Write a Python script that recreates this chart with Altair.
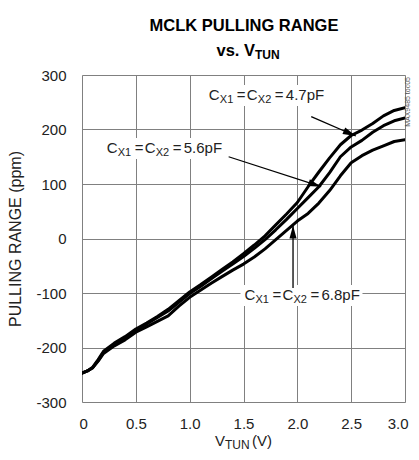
import math
import altair as alt
import pandas as pd

# ---------------- data ----------------
vtun = [0, 0.05, 0.1, 0.15, 0.2, 0.3, 0.4, 0.5, 0.6, 0.7, 0.8, 0.9, 1.0, 1.1, 1.2,
        1.3, 1.4, 1.5, 1.6, 1.7, 1.8, 1.9, 2.0, 2.1, 2.2, 2.3, 2.4, 2.5, 2.6, 2.7,
        2.8, 2.9, 3.0]
ppm_47 = [-247, -243, -236, -222, -207, -192, -180, -166, -155, -143, -130, -114, -98,
          -85, -71, -57, -43, -28, -12, 5, 25, 45, 66, 95, 122, 148, 172, 189, 199,
          211, 225, 235, 240]
ppm_56 = [-247, -243, -237, -224, -209, -194, -182, -168, -157, -145, -133, -117, -101,
          -88, -74, -60, -47, -33, -18, -2, 16, 35, 55, 75, 95, 121, 150, 168, 180,
          195, 207, 216, 221]
ppm_68 = [-247, -243, -237, -225, -211, -197, -186, -172, -162, -152, -142, -124, -108,
          -95, -82, -70, -58, -47, -34, -19, -2, 15, 32, 46, 65, 88, 115, 139, 152,
          162, 170, 178, 181]
series_names = ["4.7pF", "5.6pF", "6.8pF"]

x_ticks = [0, 0.5, 1.0, 1.5, 2.0, 2.5, 3.0]
y_ticks = [-300, -200, -100, 0, 100, 200, 300]

# annotation labels: value text, start (V), baseline (ppm)
label_vals = ["4.7pF", "5.6pF", "6.8pF"]
label_v = [1.178, 0.230, 1.509]
label_p = [254.1, 156.9, -112.8]
# arrows: tail (V, ppm) -> tip (V, ppm)
arrow_v1 = [2.129, 1.362, 1.960]
arrow_p1 = [223.5, 150.0, -90.8]
arrow_v2 = [2.543, 2.221, 1.960]
arrow_p2 = [188.1, 95.0, 24.0]

# ---------------- geometry helpers ----------------
W, H = 323, 327
X0 = 82                         # page x of plot's left edge
XD, YD = [0, 3], [-300, 300]
PXV = W / (XD[1] - XD[0])      # px per volt
PXP = H / (YD[1] - YD[0])      # px per ppm
FONT = "Liberation Sans"
TXT = "#222"

xs = alt.Scale(domain=XD, nice=False, zero=False)
ys = alt.Scale(domain=YD, nice=False, zero=False)

rows = []
for name, vals in zip(series_names, [ppm_47, ppm_56, ppm_68]):
    for v, p in zip(vtun, vals):
        rows.append({"V": v, "ppm": p, "series": name})
df = pd.DataFrame(rows)

# text pieces of "CX1 = CX2 = value" (px offset, px drop, text, size)
pieces_tpl = [(0, 0, "C", 15), (11, 3, "X1", 11), (28, 0, "=", 15), (38, 0, "C", 15),
              (49, 3, "X2", 11), (66, 0, "=", 15), (77, 0, None, 15)]
trows, rrows = [], []
for val, lv, lp in zip(label_vals, label_v, label_p):
    for dxp, dyp, t, s in pieces_tpl:
        trows.append({"V": lv + dxp / PXV, "ppm": lp - dyp / PXP,
                      "t": t if t else val, "s": s})
    rrows.append({"V": lv - 4 / PXV, "V2": lv + 118 / PXV,
                  "ppm": lp + 15 / PXP, "ppm2": lp - 6 / PXP})
tdf = pd.DataFrame(trows)
rdf = pd.DataFrame(rrows)

arows = []
for a, b, c, d in zip(arrow_v1, arrow_p1, arrow_v2, arrow_p2):
    sdx = (c - a) * PXV
    sdy = -(d - b) * PXP
    ang = math.degrees(math.atan2(sdx, -sdy)) % 360
    arows.append({"V": a, "ppm": b, "V2": c, "ppm2": d, "ang": ang})
adf = pd.DataFrame(arows)

# ---------------- layers ----------------
base = alt.Chart(df).mark_line(strokeWidth=3, color="black", strokeJoin="round",
                               strokeCap="round", clip=True).encode(
    x=alt.X("V:Q", scale=xs, axis=alt.Axis(
        values=x_ticks, title=None, grid=True, ticks=False, domain=False,
        labelExpr="datum.value == 0 ? '0' : format(datum.value, '.1f')",
        labelPadding=14, labelFontSize=15, labelColor=TXT, labelFont=FONT,
        gridColor="#808080", gridWidth=1, labelFlush=True, labelFlushOffset=3)),
    y=alt.Y("ppm:Q", scale=ys, axis=alt.Axis(
        values=y_ticks, title="PULLING RANGE (ppm)", grid=True, ticks=False,
        domain=False, labelExpr="'' + datum.value", labelPadding=16,
        labelFontSize=15, labelColor=TXT, labelFont=FONT,
        titleFont=FONT, titleFontSize=16, titleFontWeight="normal",
        titleColor=TXT, titlePadding=12,
        gridColor="#808080", gridWidth=1)),
    detail="series:N",
)

rects = alt.Chart(rdf).mark_rect(color="white").encode(
    x=alt.X("V:Q", scale=xs), x2="V2:Q",
    y=alt.Y("ppm:Q", scale=ys), y2="ppm2:Q")

lines = alt.Chart(adf).mark_rule(color="black", strokeWidth=1.3).encode(
    x=alt.X("V:Q", scale=xs), x2="V2:Q",
    y=alt.Y("ppm:Q", scale=ys), y2="ppm2:Q")

heads = alt.Chart(adf).mark_point(
    shape="M0,0L0.55,2L-0.55,2Z", filled=True, color="black", opacity=1,
    size=169).encode(
    x=alt.X("V2:Q", scale=xs), y=alt.Y("ppm2:Q", scale=ys),
    angle=alt.Angle("ang:Q", scale=None))

labels = alt.Chart(tdf).mark_text(align="left", baseline="alphabetic", font=FONT,
                                  color=TXT).encode(
    x=alt.X("V:Q", scale=xs), y=alt.Y("ppm:Q", scale=ys),
    text="t:N", size=alt.Size("s:Q", scale=None))


def ptext(txt, px, py, size, align="left", weight="normal", angle=0, color=TXT,
          baseline="alphabetic"):
    return alt.Chart(pd.DataFrame({"t": [txt]})).mark_text(
        align=align, baseline=baseline, font=FONT, fontSize=size,
        fontWeight=weight, angle=angle, color=color).encode(
        x=alt.value(px - X0), y=alt.value(py - 75), text="t:N")


title1 = ptext("MCLK PULLING RANGE", 244, 31, 16.5, align="center", weight="bold",
               color="black")
title2 = ptext("vs. V", 255, 56, 16.5, align="right", weight="bold", color="black")
title3 = ptext("TUN", 255, 59, 12, weight="bold", color="black")
xt1 = ptext("V", 215, 446, 15)
xt2 = ptext("TUN", 225, 449, 12)
xt3 = ptext("(V)", 252, 446, 15)
side = ptext("MAX9485 toc05", 409.5, 77, 7, align="right", angle=270,
             color="#555", baseline="alphabetic")

chart = alt.layer(rects, base, lines, heads, labels, title1, title2, title3,
                  xt1, xt2, xt3, side).properties(
    width=W, height=H,
    autosize=alt.AutoSizeParams(type="none"),
    padding={"left": 74, "top": 67, "right": 6, "bottom": 50},
    background="white",
).configure_view(stroke="black", strokeWidth=3).configure(font=FONT)

chart.save("out.html", embed_options={"renderer": "svg", "actions": False})
